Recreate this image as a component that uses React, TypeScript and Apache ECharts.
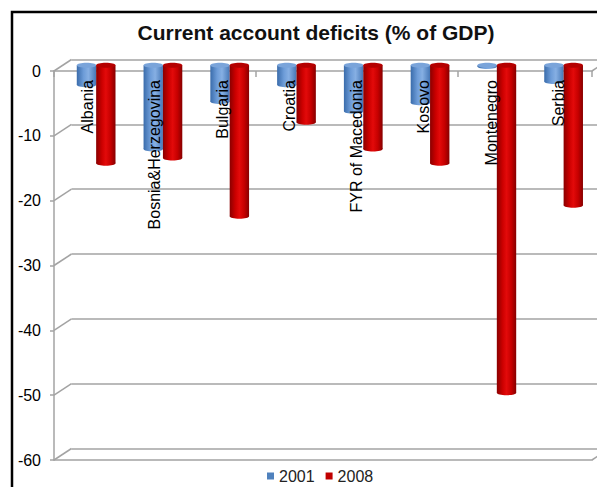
import React, { useEffect, useRef } from "react";
import * as echarts from "echarts";

// ---- data ----
const categories = [
  "Albania",
  "Bosnia&Herzegovina",
  "Bulgaria",
  "Croatia",
  "FYR of Macedonia",
  "Kosovo",
  "Montenegro",
  "Serbia",
];
const values2001 = [-3.0, -12.9, -5.6, -3.0, -7.1, -5.8, -0.2, -2.5];
const values2008 = [-15.1, -14.3, -23.3, -8.8, -12.9, -15.1, -50.5, -21.6];
const seriesNames = ["2001", "2008"];
const yTicks = [0, -10, -20, -30, -40, -50, -60];
const titleText = "Current account deficits (% of GDP)";

// ---- layout / style ----
const FONT = "'Liberation Sans', Arial, sans-serif";
const W = 538;
const H = 389;
const FRONT = { left: 54, top: 71, width: W, height: H };
const DX = 17.5;
const DY = 11.5;
const BACK = { left: FRONT.left + DX, top: FRONT.top - DY, width: W, height: H };
const MID = { left: FRONT.left + DX / 2, top: FRONT.top - DY / 2, width: W, height: H };
const GRID_GRAY = "#a3a3a3";

const BLUE = {
  legend: "#4f81bd",
  body: [
    { offset: 0, color: "#3a6cab" },
    { offset: 0.35, color: "#6d9cd8" },
    { offset: 0.6, color: "#86afe3" },
    { offset: 1, color: "#4677b6" },
  ],
  top: "#7aa4da",
};
const RED = {
  legend: "#c00000",
  body: [
    { offset: 0, color: "#8a0000" },
    { offset: 0.3, color: "#cc0000" },
    { offset: 0.5, color: "#e30a0a" },
    { offset: 0.75, color: "#c60000" },
    { offset: 1, color: "#860000" },
  ],
  top: "#b50000",
};

function makeRenderItem(sign: number, pal: any) {
  return (params: any, api: any) => {
    const idx = api.value(0);
    const val = api.value(1);
    const base = api.coord([idx, 0]);
    const end = api.coord([idx, val]);
    const band = api.size([1, 0])[0];
    const w = band * 0.29;
    const cx = base[0] + (sign * w) / 2;
    const x = cx - w / 2;
    const y0 = base[1];
    const y1 = end[1];
    const ry = 2.5;
    const fill = () => new echarts.graphic.LinearGradient(0, 0, 1, 0, pal.body);
    return {
      type: "group",
      children: [
        {
          type: "rect",
          shape: { x, y: y0, width: w, height: Math.max(y1 - y0, 0) },
          style: { fill: fill() },
        },
        {
          type: "ellipse",
          shape: { cx, cy: y1, rx: w / 2, ry },
          style: { fill: fill() },
        },
        {
          type: "ellipse",
          shape: { cx, cy: y0, rx: w / 2, ry },
          style: { fill: pal.top },
        },
      ],
    };
  };
}

export default function App() {
  const ref = useRef<HTMLDivElement>(null);

  useEffect(() => {
    if (!ref.current) return;
    const chart = echarts.init(ref.current, undefined, { renderer: "svg" });

    const catAxisHidden = (gridIndex: number) => ({
      type: "category",
      gridIndex,
      data: categories,
      show: false,
    });

    chart.setOption({
      animation: false,
      backgroundColor: "#ffffff",
      textStyle: { fontFamily: FONT },
      title: {
        text: titleText,
        left: 311,
        top: 17,
        textAlign: "center",
        textStyle: { fontFamily: FONT, fontSize: 21, fontWeight: "bold", color: "#111111" },
      },
      legend: {
        data: seriesNames,
        left: 267,
        top: 468,
        padding: 0,
        icon: "rect",
        itemWidth: 7,
        itemHeight: 7,
        itemGap: 11,
        textStyle: { fontFamily: FONT, fontSize: 16, color: "#222222" },
      },
      grid: [
        { ...BACK, containLabel: false },
        { ...FRONT, containLabel: false },
        { ...MID, containLabel: false },
        { ...FRONT, containLabel: false },
      ],
      xAxis: [
        catAxisHidden(0),
        {
          type: "category",
          gridIndex: 1,
          position: "top",
          data: categories,
          axisLine: { show: true, lineStyle: { color: GRID_GRAY, width: 1.5 } },
          axisTick: { show: true, inside: true, length: 6, lineStyle: { color: GRID_GRAY, width: 1.5 } },
          axisLabel: { show: false },
          splitLine: { show: false },
        },
        {
          type: "category",
          gridIndex: 1,
          position: "bottom",
          data: categories,
          axisLine: { show: true, lineStyle: { color: GRID_GRAY, width: 1.5 } },
          axisTick: { show: false },
          axisLabel: { show: false },
          splitLine: { show: false },
        },
        catAxisHidden(2),
        {
          type: "category",
          gridIndex: 3,
          position: "top",
          data: categories,
          z: 10,
          axisLine: { show: false },
          axisTick: { show: false },
          splitLine: { show: false },
          axisLabel: {
            show: true,
            inside: true,
            rotate: 90,
            margin: 9,
            interval: 0,
            fontFamily: FONT,
            fontSize: 16,
            color: "#000000",
          },
        },
      ],
      yAxis: [
        {
          type: "value",
          gridIndex: 0,
          min: -60,
          max: 0,
          interval: 10,
          axisLine: { show: false },
          axisTick: { show: false },
          axisLabel: { show: false },
          splitLine: { show: true, lineStyle: { color: GRID_GRAY, width: 1.5 } },
        },
        {
          type: "value",
          gridIndex: 1,
          min: -60,
          max: 0,
          interval: 10,
          axisLine: { show: true, lineStyle: { color: GRID_GRAY, width: 1.5 } },
          axisTick: { show: true, length: 4, lineStyle: { color: GRID_GRAY, width: 1.5 } },
          axisLabel: { show: true, margin: 13, fontFamily: FONT, fontSize: 16, color: "#000000" },
          splitLine: { show: false },
        },
        { type: "value", gridIndex: 2, min: -60, max: 0, interval: 10, show: false },
        { type: "value", gridIndex: 3, min: -60, max: 0, interval: 10, show: false },
      ],
      series: [
        {
          name: seriesNames[0],
          type: "custom",
          xAxisIndex: 3,
          yAxisIndex: 2,
          itemStyle: { color: BLUE.legend },
          renderItem: makeRenderItem(-1, BLUE),
          data: values2001.map((v, i) => [i, v]),
          z: 3,
        },
        {
          name: seriesNames[1],
          type: "custom",
          xAxisIndex: 3,
          yAxisIndex: 2,
          itemStyle: { color: RED.legend },
          renderItem: makeRenderItem(1, RED),
          data: values2008.map((v, i) => [i, v]),
          z: 3,
        },
      ],
    });

    // 3D depth connectors and outer frame, derived from the axes' scales
    const lines: any[] = [];
    yTicks.forEach((v) => {
      const yf = chart.convertToPixel({ yAxisIndex: 1 } as any, v) as number;
      const yb = chart.convertToPixel({ yAxisIndex: 0 } as any, v) as number;
      lines.push({
        type: "line",
        shape: { x1: FRONT.left, y1: yf, x2: BACK.left, y2: yb },
        style: { stroke: GRID_GRAY, lineWidth: 1.5 },
        z: 1,
      });
    });
    [0, -60].forEach((v) => {
      const yf = chart.convertToPixel({ yAxisIndex: 1 } as any, v) as number;
      const yb = chart.convertToPixel({ yAxisIndex: 0 } as any, v) as number;
      lines.push({
        type: "line",
        shape: { x1: FRONT.left + W, y1: yf, x2: BACK.left + W, y2: yb },
        style: { stroke: GRID_GRAY, lineWidth: 1.5 },
        z: 1,
      });
    });
    lines.push({
      type: "rect",
      shape: { x: 12, y: 12, width: 640, height: 520 },
      style: { fill: "none", stroke: "#000000", lineWidth: 2.5 },
      z: 20,
    });
    chart.setOption({ graphic: lines });

    return () => chart.dispose();
  }, []);

  return (
    <div
      ref={ref}
      style={{ position: "fixed", left: 0, top: 0, width: 597, height: 487, background: "#fff" }}
    />
  );
}
